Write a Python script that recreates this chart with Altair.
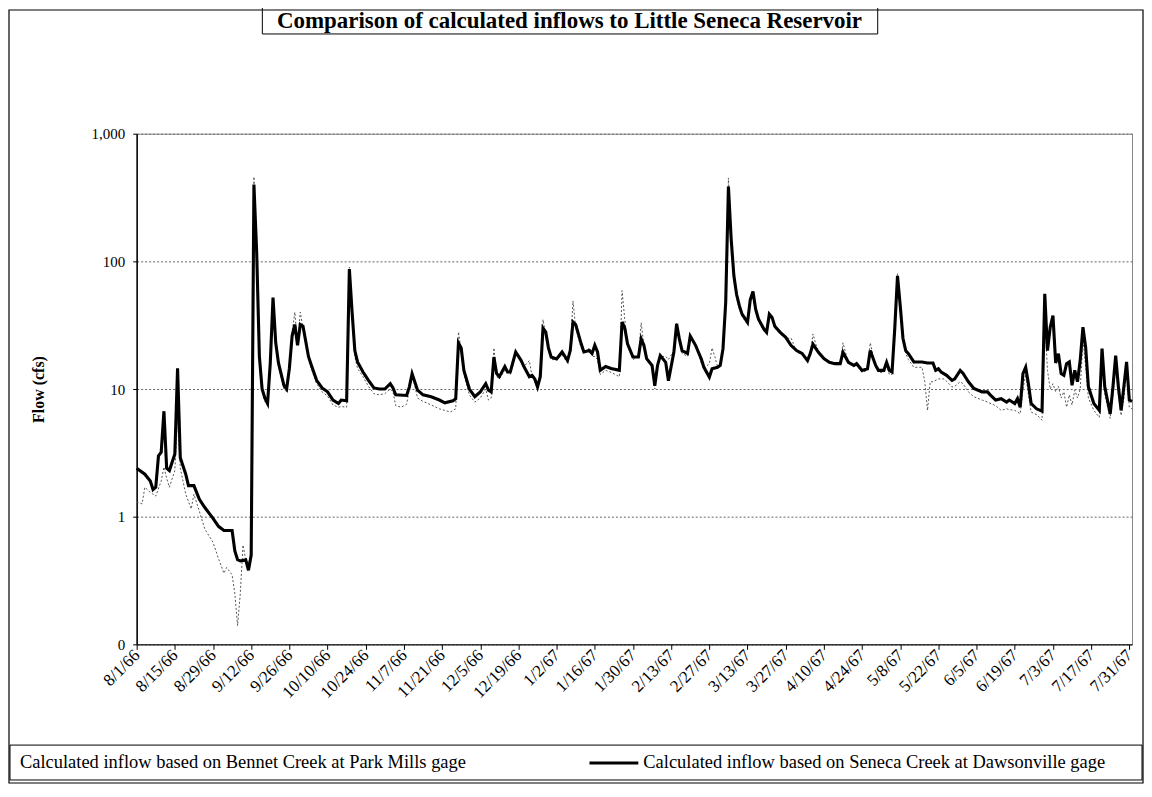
import altair as alt
import pandas as pd

# ---- data (day offset from 8/1/66, flow in cfs) ----
seneca_day = [0, 3, 5, 6, 7, 8, 9, 10, 11, 12, 14, 15, 16, 18, 19, 21, 23, 25, 28, 30,
              32, 35, 36, 37, 38, 40, 41, 42, 43, 44, 45, 46, 47, 48, 49, 50, 51, 52, 54, 55,
              56, 57, 58, 59, 60, 61, 63, 64, 66, 68, 70, 72, 74, 75, 77, 78, 79, 80, 81, 83,
              85, 87, 89, 91, 93, 94, 95, 99, 100, 101, 103, 105, 108, 111, 113, 116, 117, 118, 119, 120,
              122, 124, 126, 128, 129, 130, 131, 132, 133, 135, 136, 137, 139, 141, 142, 144, 145, 146, 147, 148,
              149, 150, 151, 152, 154, 156, 158, 159, 160, 161, 163, 164, 166, 167, 168, 169, 170, 172, 174, 177,
              178, 179, 180, 182, 184, 185, 186, 187, 189, 190, 191, 192, 194, 195, 197, 198, 199, 200, 202, 203,
              205, 206, 207, 208, 210, 211, 213, 214, 215, 216, 217, 218, 219, 220, 221, 222, 224, 225, 226, 227,
              228, 230, 231, 232, 233, 234, 236, 238, 240, 242, 244, 246, 247, 248, 250, 252, 254, 256, 258, 259,
              261, 263, 264, 266, 268, 269, 271, 272, 274, 275, 276, 277, 278, 279, 280, 281, 282, 283, 285, 288,
              290, 292, 293, 294, 295, 297, 299, 300, 302, 303, 305, 307, 310, 312, 313, 315, 317, 319, 320, 322,
              323, 324, 325, 326, 327, 328, 330, 332, 333, 334, 335, 336, 337, 338, 339, 340, 341, 342, 343, 344,
              345, 346, 347, 348, 349, 351, 353, 354, 355, 357, 358, 359, 360, 361, 362, 363, 364, 365]
seneca_flow = [2.4, 2.15, 1.9, 1.63, 1.7, 3.0, 3.2, 6.7, 2.4, 2.3, 3.1, 14.5, 2.9, 2.15, 1.75, 1.75, 1.37, 1.18, 0.97, 0.84,
               0.78, 0.78, 0.54, 0.46, 0.45, 0.46, 0.38, 0.5, 400, 120, 18, 10, 8.5, 7.7, 16, 52, 23, 16, 10.7, 10,
               14.5, 26, 32, 22, 32, 31, 18, 15.5, 11.7, 10.2, 9.5, 8.2, 7.7, 8.2, 8.1, 87, 40, 20, 16.3, 13.6,
               11.7, 10.2, 10, 10, 11, 10.2, 9.0, 8.9, 10.4, 13.2, 9.8, 9.0, 8.7, 8.2, 7.8, 8.1, 8.4, 23, 21, 14,
               10, 8.7, 9.5, 11, 9.8, 9.5, 17.8, 13.2, 12.5, 15, 13.6, 13.6, 19.5, 16.7, 15, 12.5, 12.8, 12, 10.4, 12.5,
               30, 28, 21, 17.8, 17.2, 19.5, 16.7, 20, 33.5, 32, 22.6, 19.5, 20, 19, 22, 19.5, 14, 15, 14.5, 14,
               33.5, 30, 22.6, 17.8, 17.8, 24.7, 22, 17.3, 15.3, 10.6, 15.3, 18.3, 16.2, 11.6, 19.5, 32.4, 24.7, 20, 19, 26,
               21.9, 19.4, 17.3, 14.8, 12.4, 14.4, 14.8, 15.3, 20.6, 47.6, 386, 150, 77, 55, 45, 38.6, 33.3, 50, 58, 42,
               35.4, 29.5, 27.8, 38.6, 36.4, 31, 27.8, 25.4, 21.9, 20, 19, 16.7, 19, 22.5, 19.4, 17.3, 16.2, 15.8, 15.8, 19.4,
               16.2, 15.3, 15.8, 14, 14.4, 20, 15.3, 14, 14, 16.2, 14, 13.6, 30, 77, 45, 25, 20, 18.9, 16.3, 16.3,
               16, 16, 14, 14.4, 13.6, 12.8, 11.7, 12, 14, 13.3, 11.4, 10.1, 9.5, 9.5, 9.0, 8.2, 8.4, 7.9, 8.2, 7.7,
               8.4, 7.2, 13.2, 14.8, 11, 7.7, 7.0, 6.7, 55.6, 20, 30.5, 37.6, 16, 18.9, 13.2, 12.8, 15.8, 16.3, 10.7, 14,
               11.4, 16.8, 30.5, 21.2, 10.4, 7.7, 6.8, 20.7, 10.4, 6.4, 10.4, 18.3, 10.4, 6.8, 10.4, 16.3, 8.2, 8.0]

bennet_day = [0, 2, 3, 5, 7, 9, 10, 11, 12, 14, 15, 16, 18, 20, 21, 23, 25, 28, 30, 32,
              33, 35, 36, 37, 38, 39, 40, 41, 42, 43, 44, 45, 46, 47, 48, 49, 50, 51, 52, 54,
              55, 56, 57, 58, 59, 60, 61, 63, 64, 66, 68, 70, 72, 74, 75, 77, 78, 79, 80, 81,
              83, 85, 87, 89, 91, 93, 94, 95, 97, 99, 100, 101, 103, 105, 108, 111, 113, 115, 117, 118,
              119, 120, 122, 124, 126, 128, 129, 130, 131, 132, 133, 135, 137, 139, 141, 142, 144, 145, 146, 147,
              148, 149, 150, 151, 152, 154, 156, 158, 159, 160, 161, 163, 164, 166, 167, 168, 169, 170, 172, 174,
              177, 178, 179, 180, 182, 184, 185, 186, 187, 189, 190, 191, 192, 194, 195, 197, 198, 199, 200, 202,
              203, 205, 206, 207, 208, 210, 211, 212, 213, 214, 215, 216, 217, 218, 219, 220, 221, 222, 224, 225,
              226, 227, 228, 230, 231, 232, 233, 234, 236, 238, 240, 242, 244, 246, 247, 248, 250, 252, 254, 256,
              258, 259, 261, 263, 264, 266, 268, 269, 271, 272, 274, 275, 276, 277, 278, 279, 280, 281, 282, 283,
              285, 288, 289, 290, 291, 292, 294, 296, 297, 299, 300, 302, 303, 305, 307, 310, 312, 315, 317, 319,
              320, 322, 324, 325, 326, 327, 328, 330, 332, 333, 334, 335, 336, 337, 338, 339, 340, 341, 342, 343,
              344, 345, 346, 347, 348, 349, 351, 353, 354, 355, 357, 358, 359, 360, 361, 362, 363, 364, 365]
bennet_flow = [1.3, 1.26, 1.7, 1.55, 1.45, 1.9, 2.45, 2.0, 1.7, 2.3, 5.9, 2.4, 1.5, 1.15, 1.5, 1.1, 0.8, 0.63, 0.47, 0.36,
               0.4, 0.35, 0.25, 0.14, 0.25, 0.6, 0.46, 0.43, 0.5, 460, 110, 17, 9.5, 8, 7.4, 15, 48, 22, 15, 10,
               9.5, 14, 28, 40, 22, 40, 30, 17, 14.5, 11, 9.5, 8.8, 7.5, 7.2, 7.3, 7.2, 90, 38, 18, 14.5,
               12.5, 10.5, 9.2, 9, 9.2, 10, 9.5, 7.4, 7.2, 7.6, 10, 13, 8.5, 8.0, 7.5, 7.0, 6.8, 6.6, 7.0, 28,
               20, 13, 9, 7.9, 8.5, 10, 8.2, 8.5, 21, 12.5, 12, 14, 13, 19, 17, 15, 16.7, 12.5, 11.5, 10,
               12, 35, 27, 20, 17, 17, 18.5, 16, 20, 49, 30, 21, 19, 21, 18, 18, 17, 13, 14, 13.5,
               12.5, 59, 35, 22, 17, 18, 33, 22, 17, 15, 10, 15.5, 18, 18, 17, 20, 33, 24, 19, 18,
               26, 22, 19, 16, 14.5, 15.8, 21, 18, 15, 15.5, 20, 45, 450, 150, 75, 52, 42, 37, 32, 48,
               55, 42, 34, 28.5, 27, 37, 35, 30, 27, 25, 25, 19.5, 18.5, 16.5, 19, 27, 19, 17, 16, 15.5,
               15.5, 23, 16, 15, 15.5, 13.5, 14, 23, 15, 13.5, 13.5, 15.5, 13, 13, 35, 80, 45, 25, 19, 17,
               14.8, 14.8, 11.4, 6.8, 11.4, 11.4, 12, 12, 11.5, 10.4, 10.5, 11.4, 11, 9.5, 8.7, 8.2, 7.9, 7.4, 6.8, 7.0,
               6.9, 6.8, 6.4, 10, 12.9, 9, 6.6, 6.3, 5.7, 36, 14, 10, 11, 9.5, 10.5, 8.5, 9.5, 7.2, 9, 7.5,
               9.8, 8.5, 10, 24, 15, 8.5, 6.8, 6.0, 17, 9, 5.9, 9, 15, 9, 6.2, 8.5, 14, 7.2, 7.0]

tick_days = [0, 14, 28, 42, 56, 70, 84, 98, 112, 126, 140, 154, 168, 182, 196, 210, 224, 238, 252, 266,
             280, 294, 308, 322, 336, 350, 364]
tick_labels = ["8/1/66", "8/15/66", "8/29/66", "9/12/66", "9/26/66", "10/10/66", "10/24/66", "11/7/66",
               "11/21/66", "12/5/66", "12/19/66", "1/2/67", "1/16/67", "1/30/67", "2/13/67", "2/27/67",
               "3/13/67", "3/27/67", "4/10/67", "4/24/67", "5/8/67", "5/22/67", "6/5/67", "6/19/67",
               "7/3/67", "7/17/67", "7/31/67"]
y_ticks = [0.1, 1, 10, 100, 1000]

title_text = "Comparison of calculated inflows to Little Seneca Reservoir"
bennet_name = "Calculated inflow based on Bennet Creek at Park Mills gage"
seneca_name = "Calculated inflow based on Seneca Creek at Dawsonville gage"

W, H = 998, 512
SERIF = "Liberation Serif"

seneca_df = pd.DataFrame({"day": seneca_day, "flow": seneca_flow})
bennet_df = pd.DataFrame({"day": bennet_day, "flow": bennet_flow})

label_js = "[" + ",".join("'%s'" % s for s in tick_labels) + "]"

x_axis = alt.Axis(values=tick_days,
                  labelExpr=label_js + "[round(datum.value/14)]",
                  labelAngle=315, labelAlign="right", labelBaseline="middle",
                  labelFont=SERIF, labelFontSize=17, labelColor="black",
                  labelPadding=3, labelFlush=False, labelOverlap=False, labelSeparation=0,
                  tickSize=5, tickColor="black", domainColor="black",
                  grid=False, title=None)
x_scale = alt.Scale(domain=[0, 365], nice=False, zero=False)
y_axis = alt.Axis(values=y_ticks,
                  labelExpr="datum.value < 0.5 ? '0' : format(datum.value, ',')",
                  labelFont=SERIF, labelFontSize=15, labelColor="black",
                  labelPadding=8, tickSize=4, tickColor="black", domainColor="black",
                  domainWidth=1.5, labelOverlap=False,
                  grid=True, gridDash=[2, 2], gridColor="#666", gridWidth=1,
                  title="Flow (cfs)", titleFont=SERIF, titleFontSize=16,
                  titleFontWeight="bold", titleColor="black",
                  titleAngle=270, titleX=-90, titleY=H / 2)
y_scale = alt.Scale(type="log", domain=[0.1, 1000], nice=False)

bennet = alt.Chart(bennet_df).mark_line(color="#555", strokeWidth=1, strokeDash=[2, 2]).encode(
    x=alt.X("day:Q", scale=x_scale, axis=x_axis),
    y=alt.Y("flow:Q", scale=y_scale, axis=y_axis))
seneca = alt.Chart(seneca_df).mark_line(color="black", strokeWidth=3.1).encode(
    x=alt.X("day:Q", scale=x_scale, axis=x_axis),
    y=alt.Y("flow:Q", scale=y_scale, axis=y_axis))

one = pd.DataFrame({"k": [0]})


def box(x1, x2, y1, y2, w=1):
    return alt.Chart(one).mark_rect(fill=None, stroke="black", strokeWidth=w).encode(
        x=alt.value(x1), x2=alt.value(x2), y=alt.value(y1), y2=alt.value(y2))


outer = box(-128, 1009, -124, 651, 1.2)
title_box = box(126, 743, -127, -100, 1)
title = alt.Chart(one).mark_text(text=title_text, font=SERIF, fontSize=23, fontWeight="bold",
                                 align="center", baseline="middle", color="black").encode(
    x=alt.value(434), y=alt.value(-113))
legend_box = box(-127, 1008, 613, 648, 1)
leg1 = alt.Chart(one).mark_text(text=bennet_name, font=SERIF, fontSize=18.5, align="left",
                                baseline="middle", color="black").encode(
    x=alt.value(-117), y=alt.value(630))
leg2 = alt.Chart(one).mark_text(text=seneca_name, font=SERIF, fontSize=18.5, align="left",
                                baseline="middle", color="black").encode(
    x=alt.value(508), y=alt.value(630))
leg_sample = alt.Chart(one).mark_rule(color="black", strokeWidth=3).encode(
    x=alt.value(454), x2=alt.value(503), y=alt.value(631))

chart = alt.layer(bennet, seneca, outer, title_box, title, legend_box, leg1, leg2, leg_sample).properties(
    width=W, height=H,
    autosize=alt.AutoSizeParams(type="none"),
    padding={"left": 129, "top": 125, "right": 12, "bottom": 140},
    background="white",
).configure_view(stroke="#888", strokeWidth=1).configure_axisX(labelOverlap=False)

chart.save("out.html", embed_options={"renderer": "svg", "actions": False})
